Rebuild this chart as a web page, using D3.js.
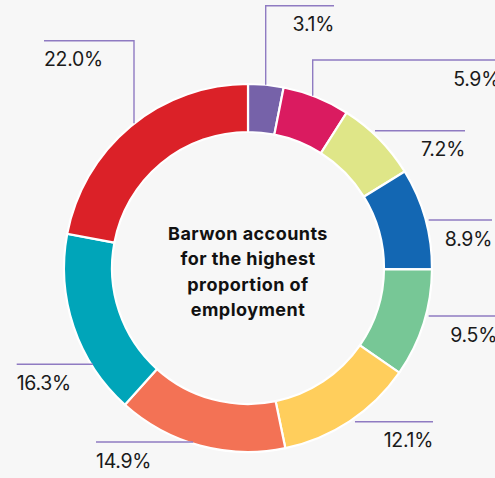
<!DOCTYPE html>
<html>
<head>
<meta charset="utf-8">
<script src="https://cdn.jsdelivr.net/npm/d3@7"></script>
<style>
  html, body { margin: 0; padding: 0; background: #f7f7f7; }
  svg { display: block; }
</style>
</head>
<body>
<svg id="chart" width="495" height="478"></svg>
<script>
// Share of employment by region (%)
const regions = ["Region A", "Region B", "Region C", "Region D", "Region E",
                 "Region F", "Region G", "Region H", "Barwon"];
const shares = [3.1, 5.9, 7.2, 8.9, 9.5, 12.1, 14.9, 16.3, 22.0];
const colors = ["#7662a9", "#da1b60", "#dfe688", "#1367b3", "#77c796",
                "#ffce5c", "#f37255", "#00a5b9", "#db2128"];
const centreLines = ["Barwon accounts", "for the highest", "proportion of", "employment"];

const W = 495, H = 478;
const cx = 248, cy = 268;
const rOuter = 185, rInner = 135;

const svg = d3.select("#chart");
svg.append("rect").attr("width", W).attr("height", H).attr("fill", "#f7f7f7");

const pie = d3.pie().sort(null).value(d => d);
const arcs = pie(shares);
const arc = d3.arc().innerRadius(rInner + 1).outerRadius(rOuter - 1);

const g = svg.append("g").attr("transform", `translate(${cx},${cy})`);
g.selectAll("path.slice")
  .data(arcs)
  .join("path")
  .attr("class", "slice")
  .attr("d", arc)
  .attr("fill", (d, i) => colors[i])
  .attr("stroke", "#ffffff")
  .attr("stroke-width", 2.2)
  .attr("stroke-linejoin", "miter");

// Leader layout: "v" = vertical riser from ring then horizontal run;
// "h" = horizontal line running from the ring edge outward.
const leaderLayout = [
  { kind: "v", x: 265.7, y: 5.7, to: 334, side: "right" },
  { kind: "v", x: 312.7, y: 60, to: 500, side: "right" },
  { kind: "h", y: 130.7, gap: 3, to: 465, side: "right" },
  { kind: "h", y: 220, gap: 2, to: 492, side: "right" },
  { kind: "h", y: 316, gap: 2, to: 497, side: "right" },
  { kind: "h", y: 421.7, gap: 4, to: 433, side: "right" },
  { kind: "h", y: 442, gap: -8, to: 96, side: "left" },
  { kind: "h", y: 364.3, gap: -3, to: 16.7, side: "left" },
  { kind: "v", x: 134, y: 40.7, to: 44, side: "left" }
];

const leaderColor = "#8f7bc2";
const labels = svg.append("g");

function ringY(x, lower) {
  const dx = x - cx;
  const dy = Math.sqrt(Math.max(0, rOuter * rOuter - dx * dx));
  return lower ? cy + dy : cy - dy;
}
function ringX(y, left) {
  const dy = y - cy;
  const dx = Math.sqrt(Math.max(0, rOuter * rOuter - dy * dy));
  return left ? cx - dx : cx + dx;
}

arcs.forEach((a, i) => {
  const L = leaderLayout[i];
  let pts;
  if (L.kind === "v") {
    const y0 = ringY(L.x, false) + 1;
    pts = [[L.x, y0], [L.x, L.y], [L.to, L.y]];
  } else {
    const left = L.side === "left";
    const x0 = ringX(L.y, left) + (left ? -L.gap : L.gap);
    pts = [[x0, L.y], [L.to, L.y]];
  }
  labels.append("path")
    .attr("d", d3.line()(pts))
    .attr("fill", "none")
    .attr("stroke", leaderColor)
    .attr("stroke-width", 1.4);

  const right = L.side === "right";
  labels.append("text")
    .attr("x", right ? Math.min(L.to, 500) : L.to)
    .attr("y", L.y + 25.5)
    .attr("text-anchor", right ? "end" : "start")
    .attr("font-family", "Inter, 'Liberation Sans', Arial, sans-serif")
    .attr("font-size", 19.5)
    .attr("letter-spacing", -0.3)
    .attr("fill", "#1a1a1a")
    .text(d3.format(".1f")(a.data) + "%");
});

// Centre caption
const lineGap = 25.3;
const firstY = 240;
svg.append("g").selectAll("text")
  .data(centreLines)
  .join("text")
  .attr("x", cx)
  .attr("y", (d, i) => firstY + i * lineGap)
  .attr("text-anchor", "middle")
  .attr("font-family", "Inter, 'Liberation Sans', Arial, sans-serif")
  .attr("font-weight", 700)
  .attr("font-size", 18)
  .attr("letter-spacing", 0.45)
  .attr("fill", "#111")
  .text(d => d);
</script>
</body>
</html>
